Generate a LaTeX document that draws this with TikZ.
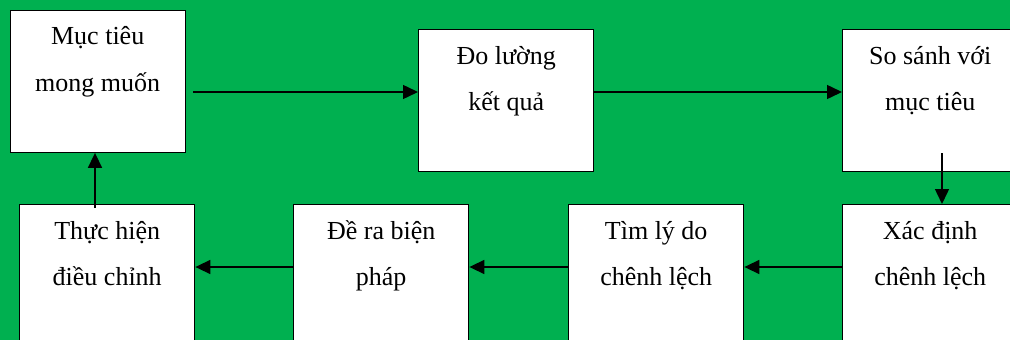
\documentclass[tikz,border=0pt]{standalone}
\usepackage{fontspec}
\setmainfont{Liberation Serif}
\usetikzlibrary{arrows.meta}
\definecolor{bggreen}{HTML}{00B050}
\newcommand\headstrut{\rule{0pt}{26pt}}
\begin{document}
\begin{tikzpicture}[x=1pt,y=-1pt,
  stepbox/.style={draw=black, line width=1.4pt, fill=white, minimum width=175pt,
    minimum height=142pt, inner sep=0pt, anchor=north west},
  steptext/.style={anchor=north, inner sep=0pt, align=center,
    font=\fontsize{26}{46.5}\selectfont},
  flow/.style={line width=1.5pt, -{Triangle[length=15pt,width=14pt]}}]
% background
\fill[bggreen] (0,0) rectangle (1010,340);
\useasboundingbox (0,0) rectangle (1010,340);
\clip (0,0) rectangle (1010,340);

% boxes
\node[stepbox] (b1) at (9.5,9.5) {};
\node[stepbox] (b2) at (418,29) {};
\node[stepbox] (b3) at (842,29) {};
\node[stepbox] (b4) at (19,204) {};
\node[stepbox] (b5) at (293,204) {};
\node[stepbox] (b6) at (568,204) {};
\node[stepbox] (b7) at (842,204) {};

% labels
\node[steptext] (t1) at ([yshift=-9pt]b1.north) {\headstrut M\d{u}c tiêu\\mong muốn};
\node[steptext] (t2) at ([yshift=-9pt]b2.north) {\headstrut Đo lường\\kết quả};
\node[steptext] (t3) at ([yshift=-9pt]b3.north) {\headstrut So sánh với\\mục tiêu};
\node[steptext] (t4) at ([yshift=-9pt]b4.north) {\headstrut Thực hiện\\điều chỉnh};
\node[steptext] (t5) at ([yshift=-9pt]b5.north) {\headstrut Đề ra biện\\pháp};
\node[steptext] (t6) at ([yshift=-9pt]b6.north) {\headstrut Tìm lý do\\chênh lệch};
\node[steptext] (t7) at ([yshift=-9pt]b7.north) {\headstrut Xác định\\chênh lệch};

% connectors
\coordinate (r1) at (193,92);
\coordinate (d1) at (942,153);
\coordinate (h1) at (0,267);
\coordinate (u1) at (95,208);
\draw[flow] (r1) -- (r1 -| b2.west);
\draw[flow] (b2.east |- r1) -- (b3.west |- r1);
\draw[flow] (d1) -- (d1 |- b7.north);
\draw[flow] (b7.west |- h1) -- (b6.east |- h1);
\draw[flow] (b6.west |- h1) -- (b5.east |- h1);
\draw[flow] (b5.west |- h1) -- (b4.east |- h1);
\draw[flow] (u1) -- (u1 |- b1.south);
\end{tikzpicture}
\end{document}
